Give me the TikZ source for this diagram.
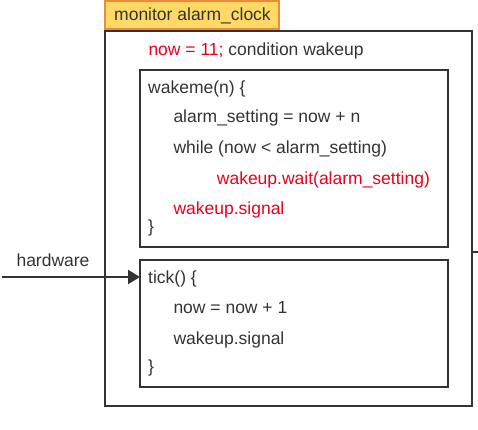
\documentclass[tikz,border=0pt]{standalone}
\usepackage{fontspec}
\setmainfont{Liberation Sans}
\usetikzlibrary{arrows.meta}
\definecolor{txt}{HTML}{333333}
\definecolor{codered}{HTML}{E8001C}
\definecolor{titlefill}{HTML}{FFD966}
\definecolor{titleline}{HTML}{EE8A3C}
\begin{document}
\begin{tikzpicture}[x=1pt,y=-1pt,
  box/.style={draw=txt,line width=2pt,inner sep=0pt,outer sep=0pt,anchor=north west},
  code/.style={anchor=base west,inner sep=0pt,text=txt,font=\fontsize{17.5}{20}\selectfont},
  red/.style={code,text=codered}]
\useasboundingbox (0,0) rectangle (478,429);
\node[box,draw=titleline,fill=titlefill,minimum width=174.5pt,minimum height=27.5pt] (title) at (104.7,1) {};
\node[code] (titletext) at (114,20) {monitor alarm\_clock};
\node[box,minimum width=366.5pt,minimum height=374.5pt] (outer) at (105,31) {};
\node[code] (decl) at (148.3,55) {\textcolor{codered}{now = 11;} condition wakeup};
\node[box,minimum width=308pt,minimum height=177pt] (wake) at (140,70) {};
\node[code] (w1) at (148,93) {wakeme(n) \{};
\node[code] (w2) at (173.3,122) {alarm\_setting = now + n};
\node[code] (w3) at (173.3,153) {while (now < alarm\_setting)};
\node[red] (w4) at (216.7,184) {wakeup.wait(alarm\_setting)};
\node[red] (w5) at (173.3,214.3) {wakeup.signal};
\node[code] (w6) at (148,232) {\}};
\node[box,minimum width=308pt,minimum height=126.5pt] (tick) at (140,260) {};
\node[code] (t1) at (148,283) {tick() \{};
\node[code] (t2) at (173.3,313.3) {now = now + 1};
\node[code] (t3) at (173.3,344.3) {wakeup.signal};
\node[code] (t4) at (148,372) {\}};
\coordinate (hw) at (2,277);
\node[code,anchor=base] (hwlabel) at (53,266) {hardware};
\draw[txt,line width=2pt,-{Triangle[length=12pt,width=14pt]}] (hw) -- (hw -| tick.west);
\coordinate (stub) at (478,252);
\draw[txt,line width=2pt] (outer.east |- stub) -- (stub);
\end{tikzpicture}
\end{document}
